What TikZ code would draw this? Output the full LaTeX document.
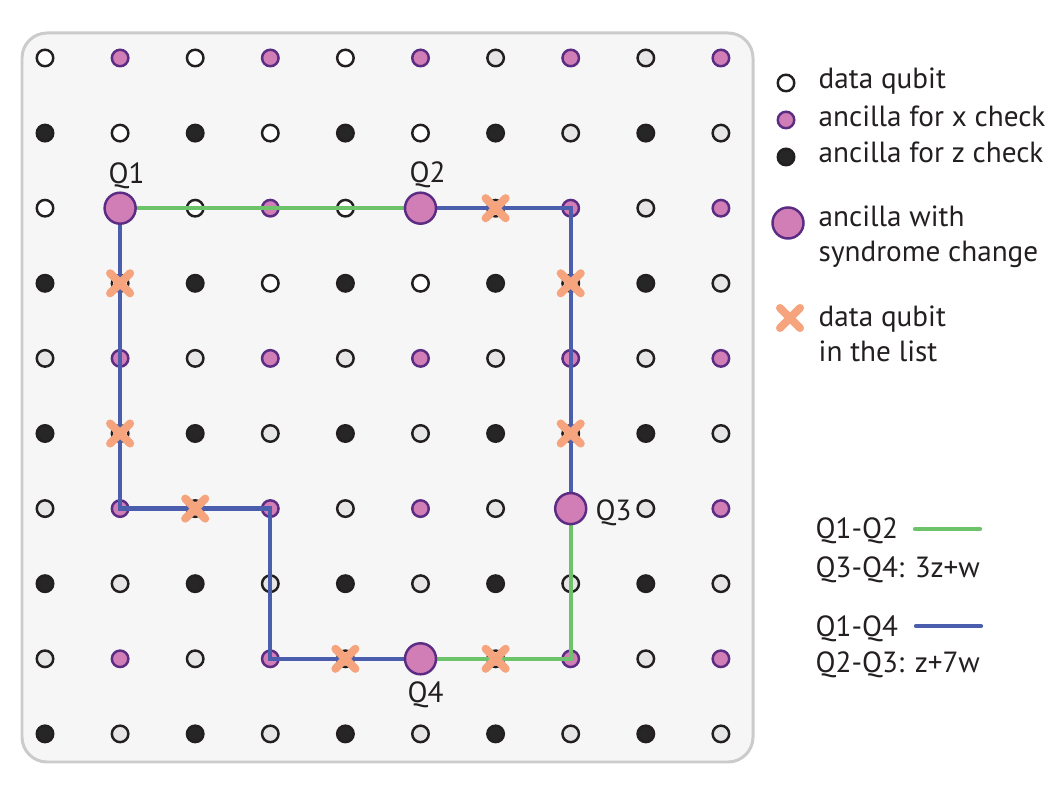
\documentclass[tikz,border=0pt]{standalone}
\usepackage{fontspec}
\setmainfont{PT Sans}
\usetikzlibrary{positioning}

\definecolor{ink}{HTML}{231F20}
\definecolor{panel}{HTML}{F6F6F6}
\definecolor{frame}{HTML}{CBCBCB}
\definecolor{datagray}{HTML}{E6E6E6}
\definecolor{xfill}{HTML}{D17DB6}
\definecolor{xedge}{HTML}{5B2C83}
\definecolor{zfill}{HTML}{262626}
\definecolor{xline}{HTML}{6DC36A}
\definecolor{zline}{HTML}{4B5EAE}
\definecolor{listx}{HTML}{F5A47E}

\tikzset{
  dot/.style={circle, draw=ink, line width=0.7pt, minimum size=0.165cm, inner sep=0pt},
  data/.style={dot, fill=white},
  datag/.style={dot, fill=datagray},
  xanc/.style={dot, draw=xedge, fill=xfill},
  zanc/.style={dot, fill=zfill},
  syn/.style={circle, draw=xedge, fill=xfill, line width=0.7pt, minimum size=0.31cm, inner sep=0pt},
  xpath/.style={draw=xline, line width=1.2pt},
  zpath/.style={draw=zline, line width=1.2pt},
  legtext/.style={anchor=base west, text=ink, inner sep=0pt, font=\fontsize{8.3}{10}\selectfont},
  xmark/.pic={\draw[listx, line width=2.3pt, line cap=round] (-10,-10) -- (10,10) (-10,10) -- (10,-10);}
}

\begin{document}
\begin{tikzpicture}[x=0.01cm, y=-0.01cm]
  \useasboundingbox (0,0) rectangle (1061,801);
  % panel behind the lattice
  \draw[frame, fill=panel, line width=0.85pt, rounded corners=0.25cm] (22,33) rectangle (753,762);

  % lattice: data qubits and the two kinds of ancilla
  \foreach \r in {0,...,9}{
    \foreach \c in {0,...,9}{
      \pgfmathtruncatemacro{\kind}{mod(\r,2)*2+mod(\c,2)}
      \pgfmathtruncatemacro{\light}{and(\r<4,\c<6)}
      \ifnum\kind=1 \def\sty{xanc}\else\ifnum\kind=2 \def\sty{zanc}\else
        \ifnum\light=1 \def\sty{data}\else\def\sty{datag}\fi\fi\fi
      \node[\sty] (n-\r-\c) at ({45+75.1*\c},{58+75.1*\r}) {};
    }
  }

  % the two paths between the changed ancillas
  \draw[xpath] (n-2-1.center) -- (n-2-5.center);
  \draw[zpath] (n-2-5.center) -- (n-2-7.center) -- (n-6-7.center);
  \draw[xpath] (n-6-7.center) -- (n-8-7.center) -- (n-8-5.center);
  \draw[zpath] (n-8-5.center) -- (n-8-3.center) -- (n-6-3.center) -- (n-6-1.center) -- (n-2-1.center);

  % data qubits in the list
  \foreach \p in {2-6,3-1,3-7,5-1,5-7,6-2,8-4,8-6}
    \pic at (n-\p) {xmark};

  % ancillas with syndrome change
  \node[syn] (Q1) at (n-2-1) {};
  \node[syn] (Q2) at (n-2-5) {};
  \node[syn] (Q3) at (n-6-7) {};
  \node[syn] (Q4) at (n-8-5) {};
  \node[legtext] (q1lab) at (108,184) {Q1};
  \node[legtext] (q2lab) at (409,183) {Q2};
  \node[legtext] (q3lab) at (595,521) {Q3};
  \node[legtext] (q4lab) at (407,703) {Q4};

  % legend
  \node[data] (kdata) at (786,83) {};
  \node[xanc] (kx) at (786,120) {};
  \node[zanc] (kz) at (786,157) {};
  \node[syn] (ksyn) at (788,223) {};
  \pic at (790,318) {xmark};
  \node[legtext] at (818,89) {data qubit};
  \node[legtext] at (818,127) {ancilla for x check};
  \node[legtext] at (818,163) {ancilla for z check};
  \node[legtext] at (818,227) {ancilla with};
  \node[legtext] at (818,262) {syndrome change};
  \node[legtext] at (818,327) {data qubit};
  \node[legtext] at (818,362) {in the list};

  \node[legtext] (kq12) at (815,539) {Q1-Q2};
  \node[legtext] (kq34) at (815,578) {Q3-Q4: 3z+w};
  \node[legtext] (kq14) at (815,637) {Q1-Q4};
  \node[legtext] (kq23) at (815,673) {Q2-Q3: z+7w};
  \coordinate (g0) at (915,529);
  \coordinate (g1) at (980,529);
  \coordinate (b0) at (916,626);
  \coordinate (b1) at (981,626);
  \draw[xpath, line cap=round] (g0) -- (g1);
  \draw[zpath, line cap=round] (b0) -- (b1);
\end{tikzpicture}
\end{document}
